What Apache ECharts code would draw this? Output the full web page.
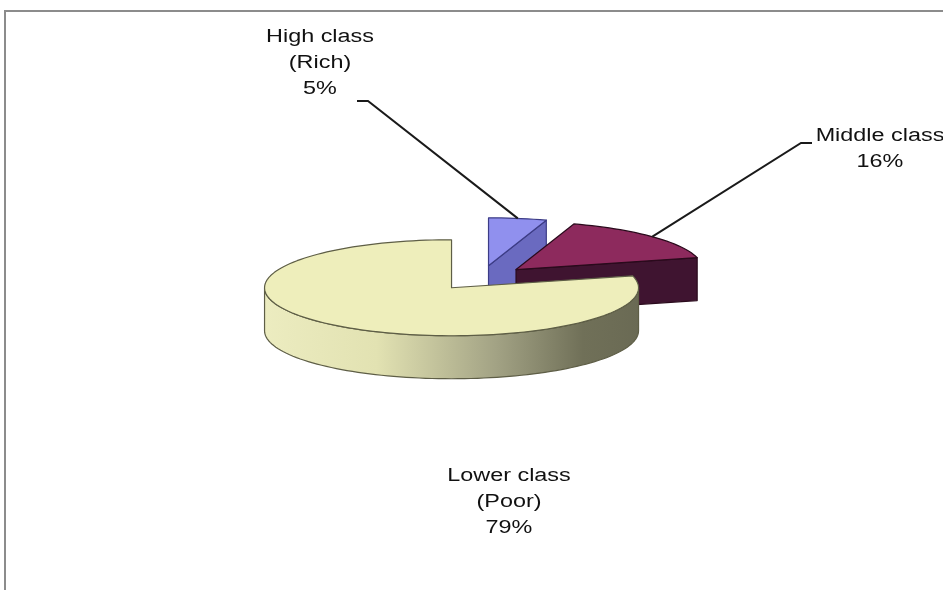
<!DOCTYPE html>
<html>
<head>
<meta charset="utf-8">
<script src="https://cdn.jsdelivr.net/npm/echarts@6/dist/echarts.min.js"></script>
<style>
  html, body { margin: 0; padding: 0; background: #fff; }
  #chart { width: 943px; height: 590px; }
</style>
</head>
<body>
<div id="chart"></div>
<script>
// slices, clockwise from 12 o'clock
const categories = ['High class\n(Rich)', 'Middle class', 'Lower class\n(Poor)'];
const shares = [5, 16, 79];

const topColors = ['#9090ee', '#8d2a5d', '#eeeebb'];
const sideColors = ['#6a6ac0', '#3f1430', '#8a8a6c'];
const edgeColors = ['#3c3c86', '#2a0a1c', '#5e5e46'];

// 3d pie layout (px)
const pie = { cx: 481, cy: 278, rx: 187, ry: 48, depth: 43, explode: 0.257 };

// label anchors and leader line elbows
const labelLayout = [
  { x: 320, y: 63, elbow: [[357, 101], [368, 101]] },
  { x: 880, y: 149, elbow: [[812, 143], [801, 143]] },
  { x: 509, y: 502, elbow: null },
];

const total = shares.reduce((a, b) => a + b, 0);
const rad = d => d * Math.PI / 180;

function pt(ax, ay, t, dy) {
  return [ax + pie.rx * Math.sin(rad(t)), ay - pie.ry * Math.cos(rad(t)) + (dy || 0)];
}

function arc(ax, ay, t0, t1, dy) {
  const pts = [];
  const n = Math.max(2, Math.ceil(Math.abs(t1 - t0) / 2));
  for (let k = 0; k <= n; k++) pts.push(pt(ax, ay, t0 + (t1 - t0) * k / n, dy));
  return pts;
}

function renderSlice(params, api) {
  const i = params.dataIndex;
  const value = api.value(0);
  const start = shares.slice(0, i).reduce((a, b) => a + b, 0) / total * 360;
  const end = start + value / total * 360;
  const mid = (start + end) / 2;
  const ax = pie.cx + pie.explode * pie.rx * Math.sin(rad(mid));
  const ay = pie.cy - pie.explode * pie.ry * Math.cos(rad(mid));
  const d = pie.depth;
  const children = [];
  const edge = { stroke: edgeColors[i], lineWidth: 1.2, lineJoin: 'round' };

  // outer wall (front half only)
  const lo = Math.max(start, 90), hi = Math.min(end, 270);
  if (lo < hi) {
    const pts = arc(ax, ay, lo, hi, 0).concat(arc(ax, ay, hi, lo, d));
    const fill = i === 2 ? {
      type: 'linear', x: 0, y: 0, x2: 1, y2: 0,
      colorStops: [
        { offset: 0, color: '#ececc0' },
        { offset: 0.3, color: '#e2e2b2' },
        { offset: 0.62, color: '#a2a284' },
        { offset: 0.85, color: '#707058' },
        { offset: 1, color: '#6a6a54' },
      ],
    } : sideColors[i];
    children.push({ type: 'polygon', shape: { points: pts }, style: Object.assign({ fill }, edge) });
  }

  // cut faces
  const cut = t => {
    const p = pt(ax, ay, t, 0);
    return [[ax, ay], p, [p[0], p[1] + d], [ax, ay + d]];
  };
  if (start > 180 && start < 360) {
    children.push({ type: 'polygon', shape: { points: cut(start) }, style: Object.assign({ fill: sideColors[i] }, edge) });
  }
  if (end > 0 && end < 180) {
    children.push({ type: 'polygon', shape: { points: cut(end) }, style: Object.assign({ fill: sideColors[i] }, edge) });
  }

  // top face
  const top = [[ax, ay]].concat(arc(ax, ay, start, end, 0));
  children.push({ type: 'polygon', shape: { points: top }, style: Object.assign({ fill: topColors[i] }, edge) });

  // label + leader
  const lab = labelLayout[i];
  if (lab.elbow) {
    const anchor = pt(ax, ay, mid, 0);
    children.push({
      type: 'polyline', z2: 20,
      shape: { points: lab.elbow.concat([anchor]) },
      style: { stroke: '#1a1a1a', lineWidth: 2, fill: null },
    });
  }
  children.push({
    type: 'text', x: lab.x, y: lab.y, scaleX: 1.3, z2: 30,
    style: {
      text: categories[i] + '\n' + value + '%',
      fill: '#111',
      font: '18px "Liberation Sans", Arial, sans-serif',
      align: 'center',
      verticalAlign: 'middle',
      lineHeight: 26,
    },
  });

  return { type: 'group', children };
}

const chart = echarts.init(document.getElementById('chart'));
chart.setOption({
  animation: false,
  backgroundColor: '#fff',
  graphic: [{
    type: 'rect', silent: true,
    shape: { x: 5, y: 11, width: 1200, height: 800 },
    style: { fill: 'none', stroke: '#8c8c8c', lineWidth: 2 },
  }],
  series: [{
    type: 'custom',
    coordinateSystem: 'none',
    silent: true,
    renderItem: renderSlice,
    data: shares.map((v, i) => ({ name: categories[i], value: [v] })),
  }],
});
</script>
</body>
</html>
